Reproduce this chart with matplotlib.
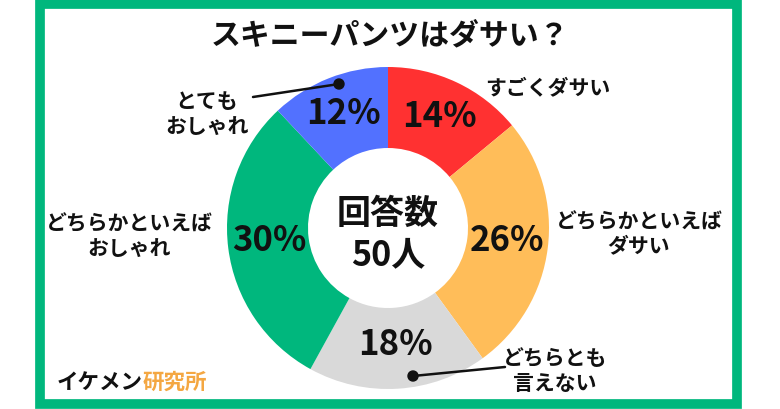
import matplotlib
matplotlib.use("Agg")
import matplotlib.pyplot as plt
from matplotlib.patches import Rectangle, Circle

plt.rcParams['font.family'] = ['Noto Sans CJK JP', 'DejaVu Sans']

# data
categories = ['すごくダサい', 'どちらかといえば\nダサい', 'どちらとも\n言えない',
              'どちらかといえば\nおしゃれ', 'とても\nおしゃれ']
shares = [14, 26, 18, 30, 12]
colors = ['#FF3131', '#FFBD59', '#D9D9D9', '#00B77D', '#5271FF']
title = 'スキニーパンツはダサい？'
center_text = '回答数\n50人'

W, H = 780, 410
GREEN = '#00B77D'


def py(y):
    # pixel row (from top) -> data y
    return H - y


fig = plt.figure(figsize=(W / 100, H / 100), dpi=100)
ax = fig.add_axes([0, 0, 1, 1])

cx, cy, R = 388, py(229), 161
wedges, texts, autotexts = ax.pie(
    shares, colors=colors, startangle=90, counterclock=False,
    center=(cx, cy), radius=R,
    wedgeprops=dict(width=R - 80, edgecolor='none'),
    autopct=lambda p: f'{p:.0f}%', pctdistance=0.745,
    textprops=dict(fontsize=25, fontweight='bold', color='#111111'))
for t in autotexts:
    x, y = t.get_position()
    t.set_position((x, y + 4))

ax.set_xlim(0, W)
ax.set_ylim(0, H)
ax.set_aspect('equal')
ax.axis('off')

# center
ax.text(cx, py(213), '回答数', ha='center', va='center', fontsize=24.5,
        fontweight='bold', color='#111111')
ax.text(cx, py(255), '50人', ha='center', va='center', fontsize=24.5,
        fontweight='bold', color='#111111')

# outside labels
label_pos = [(485, 88, 'left'), (639, 234, 'center'), (555, 371, 'center'),
             (129, 236, 'center'), (207, 114, 'center')]
for name, (x, y, ha) in zip(categories, label_pos):
    ax.text(x, py(y), name, ha=ha, va='center', fontsize=15,
            fontweight='bold', color='#111111', linespacing=1.2)

# leader lines
for (x0, y0), (x1, y1) in [((339, 85), (253, 98)), ((413, 377), (505, 368))]:
    ax.plot([x0, x1], [py(y0), py(y1)], color='#111111', lw=1.8,
            solid_capstyle='round')
    ax.add_patch(Circle((x0, py(y0)), 5, color='#111111', zorder=5))

# title
ax.text(390, py(35), title, ha='center', va='center', fontsize=21.5,
        fontweight='bold', color='#111111')

# logo
t1 = ax.text(57, py(382), 'イケメン', ha='left', va='center', fontsize=15.5,
             fontweight='bold', color='#111111')
fig.canvas.draw()
bb = t1.get_window_extent().transformed(ax.transData.inverted())
ax.text(bb.x1, py(382), '研究所', ha='left', va='center', fontsize=15.5,
        fontweight='bold', color='#F4A742')

# frame
ax.add_patch(Rectangle((39.5, 5), 697.5, 400, fill=False, edgecolor=GREEN,
                       lw=7, joinstyle='miter', zorder=10))

fig.savefig('out.png', dpi=100)
